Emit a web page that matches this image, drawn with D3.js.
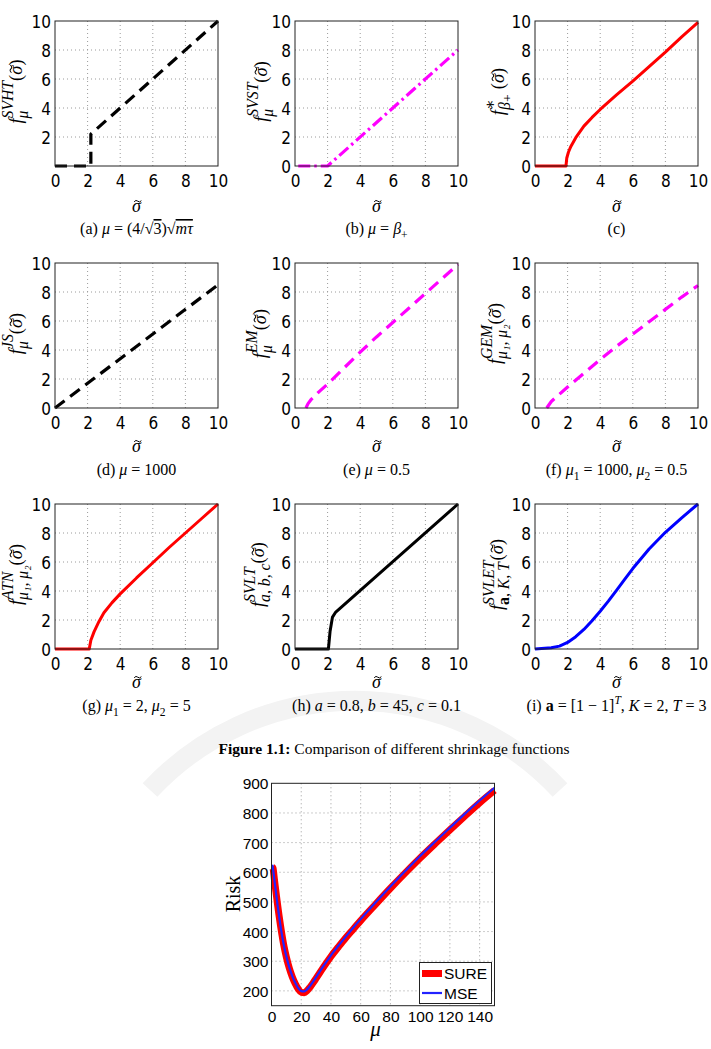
<!DOCTYPE html>
<html><head><meta charset="utf-8">
<script src="https://cdn.jsdelivr.net/npm/d3@7"></script>
<style>
html,body{margin:0;padding:0;background:#fff;}
svg{display:block;}
svg text{white-space:pre;}
</style></head>
<body><svg id="c" width="711" height="1049"></svg>
<script>
// ---------- DATA ----------
const xTicks = [0, 2, 4, 6, 8, 10];
const yTicks = [0, 2, 4, 6, 8, 10];
const yTicksA = [2, 4, 6, 8, 10];

// (a) SVHT
const svhtX = [0, 2.2, 2.2, 10];
const svhtY = [0, 0, 2.2, 10];
// (b) SVST
const svstX = [0.2, 2, 10];
const svstY = [0, 0, 8];
// (c) optimal shrinker
const optX = [0, 1.9, 1.95, 2.05, 2.2, 2.5, 3, 3.5, 4, 5, 6, 7, 8, 9, 10];
const optY = [0, 0, 0.55, 0.95, 1.35, 1.95, 2.75, 3.35, 3.9, 4.9, 5.85, 6.85, 7.85, 8.9, 9.9];
// (d) JS
const jsX = [0, 10];
const jsY = [0, 8.5];
// (e) EM
const emX = [0.67, 0.8, 1, 1.5, 2, 3, 4, 5, 6, 7, 8, 9, 10];
const emY = [0, 0.3, 0.6, 1.15, 1.65, 2.75, 3.85, 4.9, 5.9, 6.9, 7.9, 8.9, 9.9];
// (f) GEM
const gemX = [0.72, 1, 2, 3, 4, 5, 6, 7, 8, 9, 10];
const gemY = [0, 0.45, 1.45, 2.4, 3.35, 4.25, 5.1, 5.95, 6.8, 7.65, 8.45];
// (g) ATN
const atnX = [0, 2.1, 2.2, 2.4, 2.7, 3, 3.5, 4, 5, 6, 7, 8, 9, 10];
const atnY = [0, 0, 0.6, 1.2, 1.9, 2.5, 3.2, 3.8, 4.9, 5.95, 7.0, 8.0, 9.0, 10];
// (h) SVLT
const svltX = [0, 2.05, 2.15, 2.3, 2.5, 10];
const svltY = [0, 0, 1.2, 2.2, 2.55, 10];
// (i) SVLET
const svletX = [0, 1, 1.5, 2, 2.5, 3, 3.5, 4, 4.5, 5, 5.5, 6, 7, 8, 9, 10];
const svletY = [0, 0.08, 0.2, 0.45, 0.85, 1.35, 1.95, 2.6, 3.3, 4.05, 4.8, 5.55, 6.9, 8.05, 9.05, 10];

// Risk chart
const riskMu = [0.5,1,2,3,4,5,6,7,8,9,10,12,14,16,18,20,22,24,26,28,30,35,40,45,50,55,60,70,80,90,100,110,120,130,140,150];
const mseRisk = [625,612,572,532,492,456,421,390,362,337,316,279,250,227,209,199,198,205,217,231,246,284,320,352,383,413,442,498,552,604,655,703,750,797,842,885];
const sureRisk = [618,614,574,534,494,457,422,390,361,336,314,276,247,224,206,195,194,201,213,227,242,280,316,348,379,408,437,492,546,598,648,696,743,789,834,876];
const riskXTicks = [0,20,40,60,80,100,120,140];
const riskYTicks = [200,300,400,500,600,700,800,900];
const legendLabels = ["SURE", "MSE"];

// ---------- HELPERS ----------
const svg = d3.select("#c");
const SERIF = "'Liberation Serif','DejaVu Serif',serif";
const NARROW = "'Liberation Sans Narrow','DejaVu Sans Condensed',sans-serif";
const SANS = "'Liberation Sans',Arial,sans-serif";

function rich(parent, runs, o) {
  const outer = parent.append("g")
    .attr("transform", `translate(${o.x},${o.y}) rotate(${o.rotate || 0})`);
  const g = outer.append("g");
  const size = o.size;
  let cx = 0;
  function put(r, px, py, fs) {
    const t = g.append("text").attr("x", px).attr("y", py)
      .attr("font-size", fs).attr("font-family", SERIF)
      .attr("font-style", r.it ? "italic" : "normal")
      .attr("font-weight", r.bold ? "bold" : "normal")
      .attr("fill", "#000")
      .text(r.t);
    if (r.over) t.attr("text-decoration", "overline");
    const w = t.node().getComputedTextLength();
    if (r.tilde) {
      const c = px + w / 2 + fs * 0.07, y0 = py - fs * 0.6, hw = fs * 0.2;
      g.append("path")
        .attr("d", `M${c - hw},${y0 + fs * 0.03} Q${c - hw / 2},${y0 - fs * 0.1} ${c},${y0} T${c + hw},${y0 - fs * 0.03}`)
        .attr("fill", "none").attr("stroke", "#000").attr("stroke-width", fs * 0.055);
    }
    return w;
  }
  function seq(s, px, py, fs) { let w = 0; for (const r of s) w += put(r, px + w, py, fs); return w; }
  for (const r of runs) {
    if (r.sub || r.sup) {
      const fs = size * (o.scr || 0.72);
      const w1 = r.sup ? seq(r.sup, cx, -size * (o.supUp || 0.42), fs) : 0;
      const w2 = r.sub ? seq(r.sub, cx, size * 0.3, fs) : 0;
      cx += Math.max(w1, w2);
    } else cx += put(r, cx, 0, size);
  }
  g.attr("transform", `translate(${-cx / 2},0)`);
  return outer;
}

// ---------- WATERMARK ----------
svg.append("path")
  .attr("d", "M150,790 A280,280 0 0,1 560,790")
  .attr("fill", "none").attr("stroke", "#f3f3f3").attr("stroke-width", 20);

// ---------- SMALL PANELS ----------
const colLeft = [55, 295, 535];
const rowTop = [21, 263, 504];
const PW = 163, PH = 145;
const rowXlab = [41, 39, 34];
const rowCap = [68, 67, 62];

const sig = [{t: "("}, {t: "σ", it: true, tilde: true}, {t: ")"}];
const panels = [
  {xs: svhtX, ys: svhtY, yt: yTicksA, color: "#000", dash: "12,7", w: 3.2,
   lab: [{t: "f", it: true}, {sub: [{t: "μ", it: true}], sup: [{t: "SVHT", it: true}]}, ...sig], labX: 16,
   cap: [{t: "(a) "}, {t: "μ", it: true}, {t: " = (4/√"}, {t: "3", over: true}, {t: ")√"}, {t: "mτ", it: true, over: true}]},
  {xs: svstX, ys: svstY, yt: yTicks, color: "#ff00ff", dash: "12,4,2.5,4", w: 3.2,
   lab: [{t: "f", it: true}, {sub: [{t: "μ", it: true}], sup: [{t: "SVST", it: true}]}, ...sig], labX: 261,
   cap: [{t: "(b) "}, {t: "μ", it: true}, {t: " = "}, {t: "β", it: true}, {sub: [{t: "+"}]}]},
  {xs: optX, ys: optY, yt: yTicks, color: "#ff0000", dash: null, w: 3,
   lab: [{t: "f", it: true}, {sub: [{t: "β", it: true}, {t: "₊"}], sup: [{t: "∗"}]}, {t: " "}, ...sig], labX: 498,
   cap: [{t: "(c)"}]},
  {xs: jsX, ys: jsY, yt: yTicks, color: "#000", dash: "12,7", w: 3.2,
   lab: [{t: "f", it: true}, {sub: [{t: "μ", it: true}], sup: [{t: "JS", it: true}]}, ...sig], labX: 16,
   cap: [{t: "(d) "}, {t: "μ", it: true}, {t: " = 1000"}]},
  {xs: emX, ys: emY, yt: yTicks, color: "#ff00ff", dash: "12,7", w: 3.2,
   lab: [{t: "f", it: true}, {sub: [{t: "μ", it: true}], sup: [{t: "EM", it: true}]}, ...sig], labX: 260,
   cap: [{t: "(e) "}, {t: "μ", it: true}, {t: " = 0.5"}]},
  {xs: gemX, ys: gemY, yt: yTicks, color: "#ff00ff", dash: "12,7", w: 3.2,
   lab: [{t: "f", it: true}, {sub: [{t: "μ₁, μ₂", it: true}], sup: [{t: "GEM", it: true}]}, ...sig], labX: 495,
   cap: [{t: "(f) "}, {t: "μ", it: true}, {sub: [{t: "1"}]}, {t: " = 1000, "}, {t: "μ", it: true}, {sub: [{t: "2"}]}, {t: " = 0.5"}]},
  {xs: atnX, ys: atnY, yt: yTicks, color: "#ff0000", dash: null, w: 3,
   lab: [{t: "f", it: true}, {sub: [{t: "μ₁, μ₂", it: true}], sup: [{t: "ATN", it: true}]}, ...sig], labX: 16,
   cap: [{t: "(g) "}, {t: "μ", it: true}, {sub: [{t: "1"}]}, {t: " = 2, "}, {t: "μ", it: true}, {sub: [{t: "2"}]}, {t: " = 5"}]},
  {xs: svltX, ys: svltY, yt: yTicks, color: "#000", dash: null, w: 3,
   lab: [{t: "f", it: true}, {sub: [{t: "a, b, c", it: true}], sup: [{t: "SVLT", it: true}]}, ...sig], labX: 258,
   cap: [{t: "(h) "}, {t: "a", it: true}, {t: " = 0.8, "}, {t: "b", it: true}, {t: " = 45, "}, {t: "c", it: true}, {t: " = 0.1"}]},
  {xs: svletX, ys: svletY, yt: yTicks, color: "#0000ff", dash: null, w: 3,
   lab: [{t: "f", it: true}, {sub: [{t: "a", bold: true}, {t: ", K, T", it: true}], sup: [{t: "SVLET", it: true}]}, ...sig], labX: 497,
   cap: [{t: "(i) "}, {t: "a", bold: true}, {t: " = [1 − 1]"}, {sup: [{t: "T", it: true}]}, {t: ", "}, {t: "K", it: true}, {t: " = 2, "}, {t: "T", it: true}, {t: " = 3"}]}
];

panels.forEach((p, i) => {
  const col = i % 3, row = Math.floor(i / 3);
  const L = colLeft[col], T = rowTop[row];
  const x = d3.scaleLinear().domain([0, 10]).range([L, L + PW]);
  const y = d3.scaleLinear().domain([0, 10]).range([T + PH, T]);
  const g = svg.append("g");
  g.append("rect").attr("x", L).attr("y", T).attr("width", PW).attr("height", PH).attr("fill", "#fff");
  // grid
  g.selectAll(".gx").data(xTicks.slice(1, -1)).join("line")
    .attr("x1", d => x(d)).attr("x2", d => x(d)).attr("y1", T).attr("y2", T + PH)
    .attr("stroke", "#9a9a9a").attr("stroke-width", 1).attr("stroke-dasharray", "1,3");
  g.selectAll(".gy").data(yTicks.slice(1, -1)).join("line")
    .attr("y1", d => y(d)).attr("y2", d => y(d)).attr("x1", L).attr("x2", L + PW)
    .attr("stroke", "#9a9a9a").attr("stroke-width", 1).attr("stroke-dasharray", "1,3");
  // axes via d3
  const ax = g.append("g").attr("transform", `translate(0,${T + PH})`)
    .call(d3.axisBottom(x).tickValues(xTicks).tickSize(0).tickPadding(9).tickFormat(d3.format("d")));
  const ay = g.append("g").attr("transform", `translate(${L},0)`)
    .call(d3.axisLeft(y).tickValues(p.yt).tickSize(0).tickPadding(4).tickFormat(d3.format("d")));
  [ax, ay].forEach(a => {
    a.select(".domain").remove();
    a.selectAll("text").attr("font-family", NARROW).attr("font-size", 17).attr("fill", "#000");
  });
  ay.selectAll("text").attr("dy", "0.36em");
  ax.selectAll("text").attr("dy", "0.72em");
  // data line
  const pts = p.xs.map((v, k) => [v, p.ys[k]]);
  g.append("path").datum(pts)
    .attr("d", d3.line().x(d => x(d[0])).y(d => y(d[1])))
    .attr("fill", "none").attr("stroke", p.color).attr("stroke-width", p.w)
    .attr("stroke-dasharray", p.dash).attr("stroke-linejoin", "round");
  // box
  g.append("rect").attr("x", L).attr("y", T).attr("width", PW).attr("height", PH)
    .attr("fill", "none").attr("stroke", "#222").attr("stroke-width", 1);
  // labels
  rich(g, [{t: "σ", it: true, tilde: true}], {x: L + PW / 2, y: T + PH + rowXlab[row] + 5, size: 18});
  rich(g, p.cap, {x: L + PW / 2, y: T + PH + rowCap[row], size: 16});
  rich(g, p.lab, {x: p.labX + 6, y: T + PH / 2 - 2, size: 18.5, rotate: -90, scr: 0.85, supUp: 0.5});
});

// Figure caption
const capT = svg.append("text").attr("x", 394).attr("y", 754).attr("text-anchor", "middle")
  .attr("font-family", SERIF).attr("font-size", 15.5);
capT.append("tspan").attr("font-weight", "bold").text("Figure 1.1:");
capT.append("tspan").text(" Comparison of different shrinkage functions");

// ---------- RISK CHART ----------
const RL = 271.5, RR = 494.5, RT = 783.3, RB = 1005.7;
const rx = d3.scaleLinear().domain([0, 150]).range([RL, RR]);
const ry = d3.scaleLinear().domain([150, 900]).range([RB, RT]);
const rg = svg.append("g");
rg.selectAll(".gx").data(riskXTicks.slice(1)).join("line")
  .attr("x1", d => rx(d)).attr("x2", d => rx(d)).attr("y1", RT).attr("y2", RB)
  .attr("stroke", "#9a9a9a").attr("stroke-dasharray", "1,3");
rg.selectAll(".gy").data(riskYTicks.slice(0, -1)).join("line")
  .attr("y1", d => ry(d)).attr("y2", d => ry(d)).attr("x1", RL).attr("x2", RR)
  .attr("stroke", "#9a9a9a").attr("stroke-dasharray", "1,3");
const rax = rg.append("g").attr("transform", `translate(0,${RB})`)
  .call(d3.axisBottom(rx).tickValues(riskXTicks).tickSize(0).tickPadding(5));
const ray = rg.append("g").attr("transform", `translate(${RL},0)`)
  .call(d3.axisLeft(ry).tickValues(riskYTicks).tickSize(0).tickPadding(3));
[rax, ray].forEach(a => {
  a.select(".domain").remove();
  a.selectAll("text").attr("font-family", SANS).attr("font-size", 15.5).attr("fill", "#000");
});
rax.selectAll("text").attr("dy", "0.72em");
ray.selectAll("text").attr("dy", "0.36em");

const rline = d3.line().curve(d3.curveMonotoneX).x(d => rx(d[0])).y(d => ry(d[1]));
rg.append("path").datum(riskMu.map((m, k) => [m, sureRisk[k]]))
  .attr("d", rline).attr("fill", "none").attr("stroke", "#ff0000").attr("stroke-width", 7);
rg.append("path").datum(riskMu.map((m, k) => [m, mseRisk[k]]))
  .attr("d", rline).attr("fill", "none").attr("stroke", "#2222ff").attr("stroke-width", 2.2);
rg.append("rect").attr("x", RL).attr("y", RT).attr("width", RR - RL).attr("height", RB - RT)
  .attr("fill", "none").attr("stroke", "#222").attr("stroke-width", 1);

// legend
const lg = rg.append("g");
lg.append("rect").attr("x", 419.5).attr("y", 962.5).attr("width", 72).attr("height", 41)
  .attr("fill", "#fff").attr("stroke", "#222").attr("stroke-width", 1);
const legColors = ["#ff0000", "#2222ff"], legW = [7, 2.2];
legendLabels.forEach((l, k) => {
  const yy = 973.5 + k * 19.5;
  lg.append("line").attr("x1", 422).attr("x2", 442).attr("y1", yy).attr("y2", yy)
    .attr("stroke", legColors[k]).attr("stroke-width", legW[k]);
  lg.append("text").attr("x", 444).attr("y", yy).attr("dy", "0.36em")
    .attr("font-family", SANS).attr("font-size", 15.5).text(l);
});

rich(rg, [{t: "Risk"}], {x: 240, y: 894, size: 20, rotate: -90});
rich(rg, [{t: "μ", it: true}], {x: 375.5, y: 1036, size: 21});
</script>
</body></html>
